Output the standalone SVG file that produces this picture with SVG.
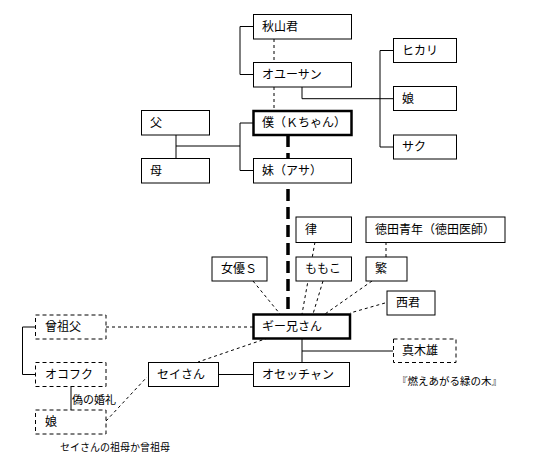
<svg xmlns="http://www.w3.org/2000/svg" width="537" height="466" viewBox="0 0 537 466">
<style>
.b{fill:#fff;stroke:#000;stroke-width:1}
.d{fill:#fff;stroke:#000;stroke-width:1;stroke-dasharray:4,3}
.k{fill:#fff;stroke:#000;stroke-width:2.5}
.l{fill:none;stroke:#000;stroke-width:1}
.dl{fill:none;stroke:#000;stroke-width:1;stroke-dasharray:3,3}
.tl{fill:none;stroke:#000;stroke-width:3.5;stroke-dasharray:12,6}
text{font-family:"Noto Sans CJK JP","Noto Sans",sans-serif;font-size:12px;fill:#000}
.s{font-size:10px}
</style>
<rect width="537" height="466" fill="#fff"/>
<g id="connectors">
<path class="l" d="M253,26.5H240V74.5H253"/>
<path class="dl" d="M274,39V62M274,87V111"/>
<path class="l" d="M302,87V98.7H380M380,50.5V147H393M380,50.5H393M380,98.7H393"/>
<path class="l" d="M176,135V158M176,146H240M240,123V170.5M240,123H253M240,170.5H253"/>
<path class="tl" d="M288,135V314"/>
<path class="dl" d="M315,242L302,314M323,281L313,314M386,242V257M372,281L325,314M253,281L280,314M385,303L350,313"/>
<path class="dl" d="M106,327H253"/>
<path class="l" d="M35.5,327H22.5V374.5H35.5M71,386.5V410"/>
<path class="dl" d="M106,421L147,377M268,338L198,362"/>
<path class="l" d="M218,374.5H253M302,338V362.5M302,351H393"/>
</g>
<g id="akiyama"><rect class="b" x="253.5" y="14.5" width="98" height="24.5"/><text x="262" y="31">秋山君</text></g>
<g id="oyusan"><rect class="b" x="253.5" y="62.5" width="98" height="24.5"/><text x="262" y="79">オユーサン</text></g>
<g id="boku"><rect class="k" x="253.5" y="111" width="98" height="24"/><text x="262" y="127">僕（Ｋちゃん）</text></g>
<g id="imouto"><rect class="b" x="253.5" y="158.5" width="98" height="24.5"/><text x="262" y="175">妹（アサ）</text></g>
<g id="chichi"><rect class="b" x="141.5" y="110.5" width="68" height="24.5"/><text x="150" y="127">父</text></g>
<g id="haha"><rect class="b" x="141.5" y="158.5" width="68" height="24.5"/><text x="150" y="175">母</text></g>
<g id="hikari"><rect class="b" x="393.5" y="38.5" width="63" height="24"/><text x="402" y="55">ヒカリ</text></g>
<g id="musume1"><rect class="b" x="393.5" y="86.5" width="63" height="24"/><text x="402" y="103">娘</text></g>
<g id="saku"><rect class="b" x="393.5" y="135" width="63" height="24"/><text x="402" y="151">サク</text></g>
<g id="ritsu"><rect class="b" x="296" y="217" width="55.5" height="25.5"/><text x="305" y="234">律</text></g>
<g id="tokuda"><rect class="b" x="366" y="217" width="139" height="25.5"/><text x="375" y="234">徳田青年（徳田医師）</text></g>
<g id="joyu"><rect class="b" x="212" y="257" width="55" height="24"/><text x="221" y="273">女優Ｓ</text></g>
<g id="momoko"><rect class="b" x="296" y="257" width="55.5" height="24"/><text x="305" y="273">ももこ</text></g>
<g id="shigeru"><rect class="b" x="366" y="257" width="41" height="24"/><text x="375" y="273">繁</text></g>
<g id="nishi"><rect class="b" x="387" y="291" width="48" height="24"/><text x="396" y="307">西君</text></g>
<g id="gii"><rect class="k" x="253.5" y="314.5" width="96.5" height="24"/><text x="262" y="331">ギー兄さん</text></g>
<g id="sosofu"><rect class="d" x="35.5" y="315" width="70.5" height="24"/><text x="45" y="331">曾祖父</text></g>
<g id="okofuku"><rect class="d" x="35.5" y="362.5" width="70.5" height="24"/><text x="45" y="379">オコフク</text></g>
<g id="musume2"><rect class="d" x="35.5" y="410" width="70.5" height="24"/><text x="45" y="426">娘</text></g>
<text x="72" y="403.5" style="font-size:11px">偽の婚礼</text>
<text x="60" y="450.5" class="s">セイさんの祖母か曾祖母</text>
<g id="seisan"><rect class="b" x="148.5" y="362.5" width="70" height="24"/><text x="157" y="379">セイさん</text></g>
<g id="osetchan"><rect class="b" x="253.5" y="362.5" width="96" height="24"/><text x="262" y="379">オセッチャン</text></g>
<g id="makio"><rect class="d" x="393.5" y="339" width="62.5" height="23.5"/><text x="402" y="355">真木雄</text></g>
<text x="397" y="384.5" style="font-size:10.5px">『燃えあがる緑の木』</text>
</svg>
